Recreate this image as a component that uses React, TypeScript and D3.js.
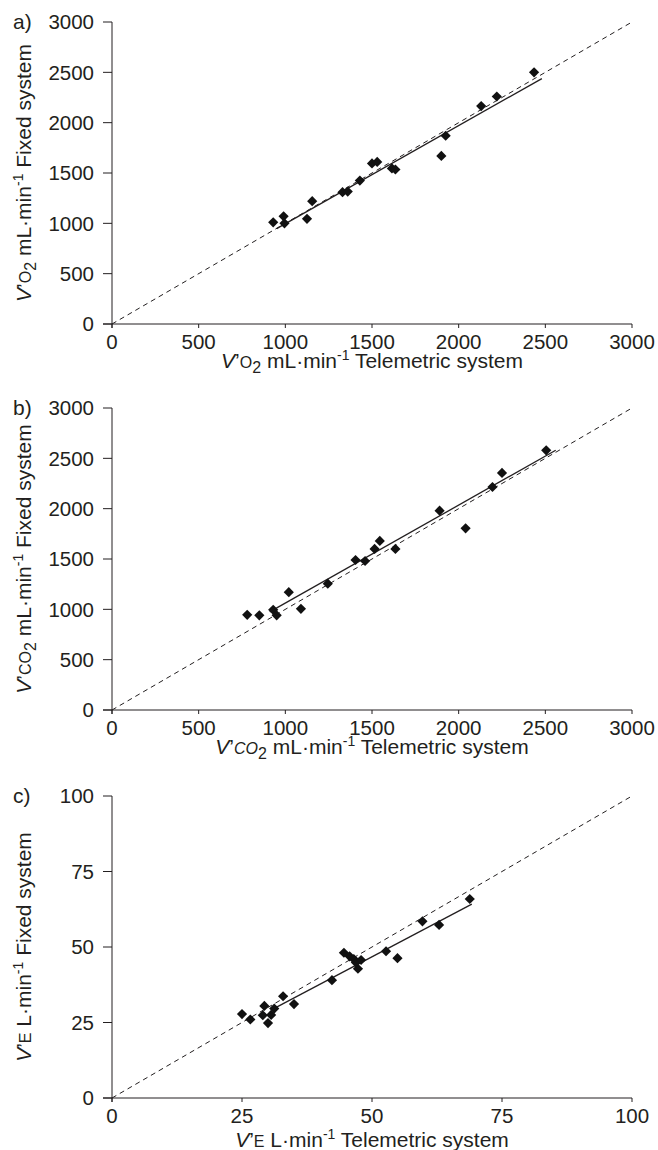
import React from "react";
import * as d3 from "d3";

const width = 658;
const height = 1150;

// a) V'O2, mL/min
const vo2Telemetric = [930, 990, 995, 1125, 1155, 1330, 1360, 1430, 1500, 1530, 1615, 1635, 1900, 1925, 2130, 2220, 2435];
const vo2Fixed = [1010, 1070, 1000, 1045, 1220, 1310, 1315, 1425, 1595, 1610, 1545, 1535, 1670, 1870, 2165, 2260, 2500];
const vo2Fit = [[950, 948], [2480, 2438]];

// b) V'CO2, mL/min
const vco2Telemetric = [780, 850, 930, 950, 1020, 1090, 1245, 1405, 1460, 1515, 1545, 1635, 1890, 2040, 2195, 2250, 2505];
const vco2Fixed = [945, 940, 995, 940, 1170, 1005, 1255, 1490, 1480, 1600, 1680, 1600, 1980, 1805, 2215, 2355, 2580];
const vco2Fit = [[910, 975], [2560, 2580]];

// c) V'E, L/min
const veTelemetric = [25, 26.6, 29, 29.3, 30, 30.6, 31.2, 32.9, 35, 42.3, 44.6, 45.7, 46.5, 47.3, 46.9, 47.9, 52.7, 54.9, 59.7, 62.9, 68.8];
const veFixed = [27.8, 26, 27.4, 30.5, 24.8, 27.5, 29.6, 33.7, 31.1, 39, 48.1, 46.9, 46, 42.8, 44.9, 45.7, 48.6, 46.3, 58.5, 57.3, 65.9];
const veFit = [[31.2, 29.7], [69.2, 64.2]];

const mlTicks = [0, 500, 1000, 1500, 2000, 2500, 3000];
const lTicks = [0, 25, 50, 75, 100];

const ink = "#231f20";
const font = "'Liberation Sans', Arial, sans-serif";

const plotLeft = 112;
const plotRight = 632;
const plotHeight = 302;

// V' + gas (small) + optional subscript, px offsets so the baseline comes back
const Quantity = ({ gas, sub, italicGas }) => (
  <>
    <tspan fontStyle="italic">V</tspan>
    <tspan>’</tspan>
    <tspan fontSize={16} fontStyle={italicGas ? "italic" : "normal"}>{gas}</tspan>
    {sub ? (
      <>
        <tspan fontSize={16} dy={5}>{sub}</tspan>
        <tspan dy={-5}> </tspan>
      </>
    ) : (
      <tspan> </tspan>
    )}
  </>
);

const Unit = ({ unit }) => (
  <>
    <tspan>{unit}·min</tspan>
    <tspan fontSize={14} dy={-8}>-1</tspan>
    <tspan dy={8}> </tspan>
  </>
);

const Panel = ({ top, tag, xs, ys, fit, ticks, gas, sub, unit, xLabelOffset, italicX }) => {
  const max = ticks[ticks.length - 1];
  const x = d3.scaleLinear().domain([0, max]).range([plotLeft, plotRight]);
  const y = d3.scaleLinear().domain([0, max]).range([top + plotHeight, top]);
  const line = d3.line().x(d => x(d[0])).y(d => y(d[1]));
  const diamond = d3.symbol().type(d3.symbolSquare).size(52)();
  const y0 = y(0);
  const midY = (y(0) + y(max)) / 2;
  const midX = (x(0) + x(max)) / 2;

  return (
    <g fontFamily={font} fill={ink}>
      <text x={13} y={top + 7} fontSize={21}>{tag}</text>

      {/* axes */}
      <line x1={x(0)} x2={x(0)} y1={y(max)} y2={y0 + 4} stroke={ink} />
      <line x1={x(0) - 9} x2={x(max)} y1={y0} y2={y0} stroke={ink} />
      {ticks.map(t => (
        <g key={"y" + t}>
          <line x1={x(0) - 9} x2={x(0)} y1={y(t)} y2={y(t)} stroke={ink} />
          <text x={x(0) - 18} y={y(t)} dy="0.36em" textAnchor="end" fontSize={20.5}>{t}</text>
        </g>
      ))}
      {ticks.map(t => (
        <g key={"x" + t}>
          <line x1={x(t)} x2={x(t)} y1={y0} y2={y0 + 4} stroke={ink} />
          <text x={x(t)} y={y0 + 25} textAnchor="middle" fontSize={20.5}>{t}</text>
        </g>
      ))}

      {/* line of identity and regression */}
      <path d={line([[0, 0], [max, max]])} fill="none" stroke={ink} strokeWidth={1} strokeDasharray="5,4" />
      <path d={line(fit)} fill="none" stroke={ink} strokeWidth={1.3} />

      {xs.map((v, i) => (
        <path key={i} d={diamond} transform={`translate(${x(v)},${y(ys[i])}) rotate(45)`} fill="#111" />
      ))}

      <text x={midX} y={y0 + xLabelOffset} textAnchor="middle" fontSize={21}>
        <Quantity gas={gas} sub={sub} italicGas={italicX} />
        <Unit unit={unit} />
        <tspan>Telemetric system</tspan>
      </text>
      <text transform={`translate(31,${midY}) rotate(-90)`} textAnchor="middle" fontSize={21}>
        <Quantity gas={gas} sub={sub} />
        <Unit unit={unit} />
        <tspan>Fixed system</tspan>
      </text>
    </g>
  );
};

export default function App() {
  return (
    <div style={{ position: "absolute", left: 0, top: 0 }}>
      <svg width={width} height={height} style={{ display: "block", background: "#fff" }}>
        <Panel top={22} tag="a)" xs={vo2Telemetric} ys={vo2Fixed} fit={vo2Fit} ticks={mlTicks}
          gas="O" sub="2" unit="mL" xLabelOffset={44} />
        <Panel top={408} tag="b)" xs={vco2Telemetric} ys={vco2Fixed} fit={vco2Fit} ticks={mlTicks}
          gas="CO" sub="2" unit="mL" xLabelOffset={44} italicX />
        <Panel top={796} tag="c)" xs={veTelemetric} ys={veFixed} fit={veFit} ticks={lTicks}
          gas="E" unit="L" xLabelOffset={49} />
      </svg>
    </div>
  );
}
